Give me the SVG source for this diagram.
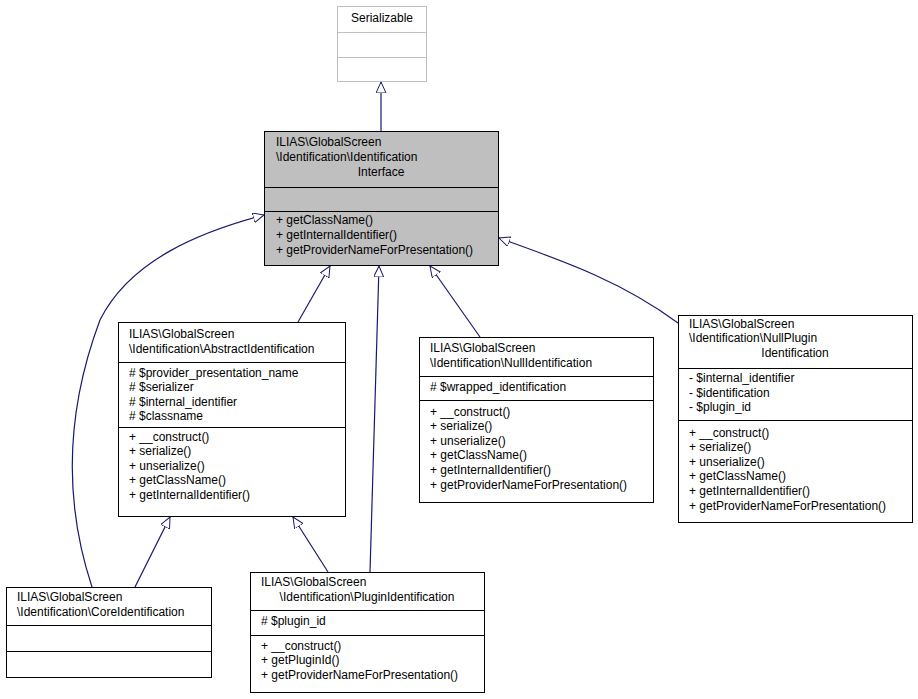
<svg xmlns="http://www.w3.org/2000/svg" width="918" height="699" viewBox="0 0 918 699">
<style>
text{font-family:"Liberation Sans",Arial,sans-serif;font-size:12px;fill:#000}
.b{fill:#fff;stroke:#000;stroke-width:1}
.g{fill:#fff;stroke:#bfbfbf;stroke-width:1}
.c{fill:none;stroke:#191970;stroke-width:1.2}
.m{text-anchor:middle}
</style>
<defs>
<marker id="tri" markerWidth="12" markerHeight="12" refX="11" refY="5" orient="auto" markerUnits="userSpaceOnUse">
<path d="M0,0 L11,5 L0,10 Z" fill="#fff" stroke="#191970" stroke-width="1"/>
</marker>
</defs>
<rect width="918" height="699" fill="#fff"/>
<g id="connectors">
<path class="c" d="M381,131 L381,82" marker-end="url(#tri)"/>
<path class="c" d="M298,322 L330,266" marker-end="url(#tri)"/>
<path class="c" d="M370,572 L379,266" marker-end="url(#tri)"/>
<path class="c" d="M480,337 L430,266" marker-end="url(#tri)"/>
<path class="c" d="M678,323 C620,280 560,260 499,238" marker-end="url(#tri)"/>
<path class="c" d="M92,587 C60,490 70,400 100,320 C130,260 200,232 264,215" marker-end="url(#tri)"/>
<path class="c" d="M135,587 L170,517" marker-end="url(#tri)"/>
<path class="c" d="M328,572 L293,517" marker-end="url(#tri)"/>
</g>
<g id="serializable">
<rect class="g" x="337.5" y="6.5" width="89" height="75"/>
<line class="g" x1="337.5" y1="32.5" x2="426.5" y2="32.5"/>
<line class="g" x1="337.5" y1="57.5" x2="426.5" y2="57.5"/>
<text class="m" x="382" y="22">Serializable</text>
</g>
<g id="iface">
<rect x="264.5" y="131.5" width="234" height="134" fill="#bfbfbf" stroke="#000"/>
<line class="b" x1="264.5" y1="187.5" x2="498.5" y2="187.5"/>
<line class="b" x1="264.5" y1="211.5" x2="498.5" y2="211.5"/>
<text x="276" y="146">ILIAS\GlobalScreen</text>
<text x="276" y="161">\Identification\Identification</text>
<text class="m" x="381" y="176">Interface</text>
<text x="276" y="224">+ getClassName()</text>
<text x="276" y="239">+ getInternalIdentifier()</text>
<text x="276" y="254">+ getProviderNameForPresentation()</text>
</g>
<g id="abstract">
<rect class="b" x="118.5" y="322.5" width="227" height="194"/>
<line class="b" x1="118.5" y1="362.5" x2="345.5" y2="362.5"/>
<line class="b" x1="118.5" y1="427.5" x2="345.5" y2="427.5"/>
<text x="129" y="338">ILIAS\GlobalScreen</text>
<text x="129" y="353">\Identification\AbstractIdentification</text>
<text x="129" y="377"># $provider_presentation_name</text>
<text x="129" y="391"># $serializer</text>
<text x="129" y="406"># $internal_identifier</text>
<text x="129" y="420"># $classname</text>
<text x="129" y="441">+ __construct()</text>
<text x="129" y="455">+ serialize()</text>
<text x="129" y="470">+ unserialize()</text>
<text x="129" y="484">+ getClassName()</text>
<text x="129" y="499">+ getInternalIdentifier()</text>
</g>
<g id="null">
<rect class="b" x="419.5" y="337.5" width="234" height="165"/>
<line class="b" x1="419.5" y1="376.5" x2="653.5" y2="376.5"/>
<line class="b" x1="419.5" y1="400.5" x2="653.5" y2="400.5"/>
<text x="430" y="352">ILIAS\GlobalScreen</text>
<text x="430" y="367">\Identification\NullIdentification</text>
<text x="430" y="391"># $wrapped_identification</text>
<text x="430" y="416">+ __construct()</text>
<text x="430" y="430">+ serialize()</text>
<text x="430" y="445">+ unserialize()</text>
<text x="430" y="459">+ getClassName()</text>
<text x="430" y="474">+ getInternalIdentifier()</text>
<text x="430" y="489">+ getProviderNameForPresentation()</text>
</g>
<g id="nullplugin">
<rect class="b" x="678.5" y="315.5" width="234" height="207"/>
<line class="b" x1="678.5" y1="368.5" x2="912.5" y2="368.5"/>
<line class="b" x1="678.5" y1="420.5" x2="912.5" y2="420.5"/>
<text x="689" y="328">ILIAS\GlobalScreen</text>
<text x="689" y="342">\Identification\NullPlugin</text>
<text class="m" x="795" y="357">Identification</text>
<text x="689" y="382">- $internal_identifier</text>
<text x="689" y="397">- $identification</text>
<text x="689" y="411">- $plugin_id</text>
<text x="689" y="437">+ __construct()</text>
<text x="689" y="451">+ serialize()</text>
<text x="689" y="466">+ unserialize()</text>
<text x="689" y="480">+ getClassName()</text>
<text x="689" y="495">+ getInternalIdentifier()</text>
<text x="689" y="510">+ getProviderNameForPresentation()</text>
</g>
<g id="core">
<rect class="b" x="6.5" y="587.5" width="205" height="90"/>
<line class="b" x1="6.5" y1="625.5" x2="211.5" y2="625.5"/>
<line class="b" x1="6.5" y1="651.5" x2="211.5" y2="651.5"/>
<text x="17" y="601">ILIAS\GlobalScreen</text>
<text x="17" y="616">\Identification\CoreIdentification</text>
</g>
<g id="plugin">
<rect class="b" x="250.5" y="572.5" width="234" height="120"/>
<line class="b" x1="250.5" y1="610.5" x2="484.5" y2="610.5"/>
<line class="b" x1="250.5" y1="635.5" x2="484.5" y2="635.5"/>
<text x="261" y="586">ILIAS\GlobalScreen</text>
<text class="m" x="367" y="601">\Identification\PluginIdentification</text>
<text x="261" y="625"># $plugin_id</text>
<text x="261" y="650">+ __construct()</text>
<text x="261" y="664">+ getPluginId()</text>
<text x="261" y="679">+ getProviderNameForPresentation()</text>
</g>
</svg>
